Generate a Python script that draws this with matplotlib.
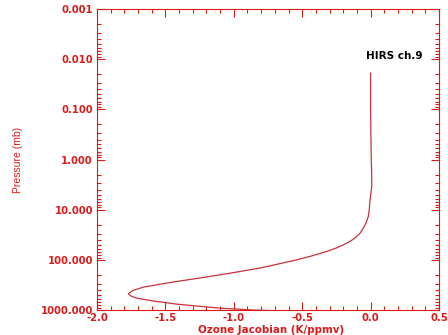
import matplotlib
matplotlib.use("Agg")
import matplotlib.pyplot as plt
from matplotlib.ticker import FixedLocator, MultipleLocator, LogLocator, NullFormatter

# ozone jacobian profile
pressure = [0.019, 0.05, 0.1, 0.3, 1.0, 2.0, 3.5, 6.4, 10.0, 13.7, 18.0, 23.0,
            29.4, 36.0, 43.0, 50.6, 58.0, 68.0, 85.0, 100.0, 122.0, 146.0,
            170.0, 199.0, 235.0, 270.0, 310.0, 350.0, 410.0, 476.0, 530.0,
            580.0, 660.0, 764.0, 840.0, 919.0, 1000.0, 1040.0]
jacobian = [0.0, 0.0, 0.0, 0.002, 0.005, 0.008, 0.008, -0.004, -0.01, -0.017,
            -0.032, -0.052, -0.077, -0.11, -0.15, -0.20, -0.25, -0.32, -0.44,
            -0.54, -0.68, -0.81, -0.95, -1.10, -1.27, -1.417, -1.55, -1.66,
            -1.74, -1.771, -1.75, -1.71, -1.59, -1.417, -1.26, -1.10, -0.86,
            -0.66]

y_ticks = [0.001, 0.01, 0.1, 1.0, 10.0, 100.0, 1000.0]
x_ticks = [-2.0, -1.5, -1.0, -0.5, 0.0, 0.5]

axis_red = "#dd1a1a"
line_red = "#c8323c"

fig = plt.figure(figsize=(4.48, 3.35), dpi=100)
ax = fig.add_axes([97 / 448, 1 - 310 / 335, 342 / 448, 301 / 335])

ax.plot(jacobian, pressure, color=line_red, lw=0.9)
ax.set_yscale("log")
ax.set_ylim(1000, 0.001)
ax.set_xlim(-2.0, 0.5)

ax.yaxis.set_major_locator(FixedLocator(y_ticks))
ax.yaxis.set_minor_locator(LogLocator(base=10, subs=range(2, 10)))
ax.yaxis.set_minor_formatter(NullFormatter())
ax.set_yticklabels(["%.3f" % v for v in y_ticks])
ax.xaxis.set_major_locator(FixedLocator(x_ticks))
ax.xaxis.set_minor_locator(MultipleLocator(0.1))
ax.set_xticklabels(["%.1f" % v for v in x_ticks])

ax.tick_params(which="both", direction="in", top=True, right=True,
               color=axis_red, labelcolor=axis_red, width=0.8)
ax.tick_params(which="major", length=6, labelsize=7.2)
ax.tick_params(axis="y", which="major", pad=3)
ax.tick_params(axis="x", which="major", pad=2)
ax.tick_params(which="minor", length=3)
for lab in ax.get_xticklabels() + ax.get_yticklabels():
    lab.set_fontweight("bold")
for sp in ax.spines.values():
    sp.set_color(axis_red)
    sp.set_linewidth(0.8)

ax.set_xlabel("Ozone Jacobian (K/ppmv)", color=axis_red, fontsize=7.4,
              fontweight="bold", va="center")
ax.xaxis.set_label_coords(0.51, -0.067)
ax.set_ylabel("Pressure (mb)", color=axis_red, fontsize=7.5,
              family="Liberation Sans", va="center")
ax.yaxis.set_label_coords(-0.231, 0.5)

ax.text(-0.03, 0.0085, "HIRS ch.9", color="black", fontsize=7.5,
        fontweight="bold", va="center", ha="left")

fig.savefig("out.png", dpi=100)
